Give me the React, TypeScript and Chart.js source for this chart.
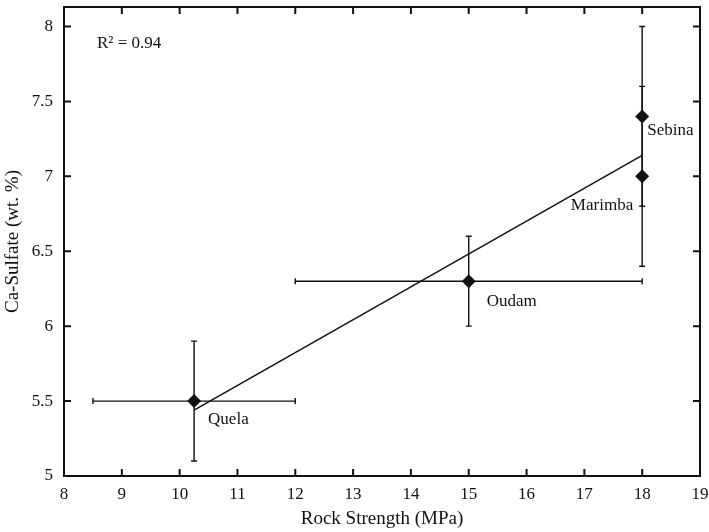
import { useEffect, useRef } from 'react';
import { Chart, registerables } from 'chart.js';

Chart.register(...registerables);

// ---- data ----
const siteNames = ['Quela', 'Oudam', 'Marimba', 'Sebina'];
const rockStrength = [10.25, 15, 18, 18];
const caSulfate = [5.5, 6.3, 7.0, 7.4];
const strengthLow = [8.5, 12, 18, 18];
const strengthHigh = [12, 18, 18, 18];
const sulfateLow = [5.1, 6.0, 6.4, 6.8];
const sulfateHigh = [5.9, 6.6, 7.6, 8.0];
const fitX = [10.25, 18];
const fitY = [5.44, 7.14];
const xTickValues = [8, 9, 10, 11, 12, 13, 14, 15, 16, 17, 18, 19];
const yTickValues = [5, 5.5, 6, 6.5, 7, 7.5, 8];
const rSquaredText = 'R² = 0.94';

const FONT = '"Liberation Serif", "Times New Roman", serif';
const INK = '#111111';

export default function App() {
  const ref = useRef<HTMLCanvasElement>(null);

  useEffect(() => {
    const canvas = ref.current;
    if (!canvas) return;

    const errorBars = {
      id: 'errorBars',
      beforeDatasetsDraw(chart: any) {
        const { ctx } = chart;
        const xs = chart.scales.x;
        const ys = chart.scales.y;
        const cap = 3;
        ctx.save();
        ctx.strokeStyle = INK;
        ctx.lineWidth = 1.4;
        for (let i = 0; i < rockStrength.length; i++) {
          const cx = xs.getPixelForValue(rockStrength[i]);
          const cy = ys.getPixelForValue(caSulfate[i]);
          const x0 = xs.getPixelForValue(strengthLow[i]);
          const x1 = xs.getPixelForValue(strengthHigh[i]);
          const y0 = ys.getPixelForValue(sulfateLow[i]);
          const y1 = ys.getPixelForValue(sulfateHigh[i]);
          ctx.beginPath();
          if (strengthHigh[i] !== strengthLow[i]) {
            ctx.moveTo(x0, cy); ctx.lineTo(x1, cy);
            ctx.moveTo(x0, cy - cap); ctx.lineTo(x0, cy + cap);
            ctx.moveTo(x1, cy - cap); ctx.lineTo(x1, cy + cap);
          }
          ctx.moveTo(cx, y0); ctx.lineTo(cx, y1);
          ctx.moveTo(cx - cap, y0); ctx.lineTo(cx + cap, y0);
          ctx.moveTo(cx - cap, y1); ctx.lineTo(cx + cap, y1);
          ctx.stroke();
        }
        ctx.restore();
      },
    };

    const labelOffsets = [
      { dx: 14, dy: 18, align: 'left' },
      { dx: 18, dy: 20, align: 'left' },
      { dx: -9, dy: 29, align: 'right' },
      { dx: 5, dy: 14, align: 'left' },
    ];

    const textPlugin = {
      id: 'texts',
      afterDatasetsDraw(chart: any) {
        const { ctx, chartArea } = chart;
        const xs = chart.scales.x;
        const ys = chart.scales.y;
        ctx.save();
        ctx.fillStyle = INK;
        ctx.font = `17px ${FONT}`;
        ctx.textBaseline = 'middle';
        for (let i = 0; i < siteNames.length; i++) {
          const px = xs.getPixelForValue(rockStrength[i]);
          const py = ys.getPixelForValue(caSulfate[i]);
          const o = labelOffsets[i];
          ctx.textAlign = o.align;
          ctx.fillText(siteNames[i], px + o.dx, py + o.dy);
        }
        ctx.textAlign = 'left';
        ctx.font = `17px ${FONT}`;
        ctx.fillText(rSquaredText, chartArea.left + 33, chartArea.top + 37);
        ctx.restore();
      },
    };

    const framePlugin = {
      id: 'frame',
      afterDraw(chart: any) {
        const { ctx, chartArea } = chart;
        const { left, right, top, bottom } = chartArea;
        const xs = chart.scales.x;
        const ys = chart.scales.y;
        const tl = 7;
        ctx.save();
        ctx.strokeStyle = INK;
        ctx.lineWidth = 2;
        ctx.strokeRect(left, top, right - left, bottom - top);
        ctx.beginPath();
        for (const v of xTickValues) {
          const x = xs.getPixelForValue(v);
          ctx.moveTo(x, bottom); ctx.lineTo(x, bottom - tl);
          ctx.moveTo(x, top); ctx.lineTo(x, top + tl);
        }
        for (const v of yTickValues) {
          const y = ys.getPixelForValue(v);
          ctx.moveTo(left, y); ctx.lineTo(left + tl, y);
          ctx.moveTo(right, y); ctx.lineTo(right - tl, y);
        }
        ctx.stroke();
        ctx.restore();
      },
    };

    const chart = new Chart(canvas, {
      type: 'scatter',
      data: {
        datasets: [
          {
            type: 'scatter',
            label: 'Sites',
            data: rockStrength.map((x, i) => ({ x, y: caSulfate[i] })),
            pointStyle: 'rectRot',
            pointRadius: 7,
            backgroundColor: INK,
            borderColor: INK,
            borderWidth: 0,
          },
          {
            type: 'line',
            label: 'Fit',
            data: fitX.map((x, i) => ({ x, y: fitY[i] })),
            borderColor: INK,
            borderWidth: 1.5,
            pointRadius: 0,
            fill: false,
          },
        ],
      },
      options: {
        responsive: false,
        animation: false,
        layout: { padding: { top: 3, right: 9, left: 0, bottom: 0 } },
        plugins: {
          legend: { display: false },
          tooltip: { enabled: false },
        },
        scales: {
          x: {
            type: 'linear',
            min: 8,
            max: 19,
            afterBuildTicks: (s: any) => { s.ticks = xTickValues.map((v) => ({ value: v })); },
            afterFit: (s: any) => {
              s.height = 56;
              s.paddingLeft = 0; s.paddingRight = 0; s.paddingTop = 0; s.paddingBottom = 0;
            },
            grid: { display: false, drawTicks: false },
            border: { display: false },
            ticks: {
              color: INK,
              font: { family: FONT, size: 17 },
              padding: 8,
              maxRotation: 0,
              autoSkip: false,
              callback: (v: any) => String(v),
            },
            title: {
              display: true,
              text: 'Rock Strength (MPa)',
              color: INK,
              font: { family: FONT, size: 19, lineHeight: 1.2 },
              padding: { top: 0, bottom: 2 },
            },
          },
          y: {
            type: 'linear',
            min: 5,
            max: 8.13,
            afterBuildTicks: (s: any) => { s.ticks = yTickValues.map((v) => ({ value: v })); },
            afterFit: (s: any) => {
              s.width = 64;
              s.paddingLeft = 0; s.paddingRight = 0; s.paddingTop = 0; s.paddingBottom = 0;
            },
            grid: { display: false, drawTicks: false },
            border: { display: false },
            ticks: {
              color: INK,
              font: { family: FONT, size: 17 },
              padding: 11,
              autoSkip: false,
              callback: (v: any) => String(v),
            },
            title: {
              display: true,
              text: 'Ca-Sulfate (wt. %)',
              color: INK,
              font: { family: FONT, size: 19, lineHeight: 1.2 },
              padding: { top: 2, bottom: 0 },
            },
          },
        },
      },
      plugins: [errorBars, textPlugin, framePlugin],
    } as any);

    return () => chart.destroy();
  }, []);

  return (
    <div style={{ position: 'absolute', left: 0, top: 0, width: 709, height: 532, background: '#fff' }}>
      <canvas ref={ref} width={709} height={532} style={{ display: 'block', width: 709, height: 532 }} />
    </div>
  );
}
